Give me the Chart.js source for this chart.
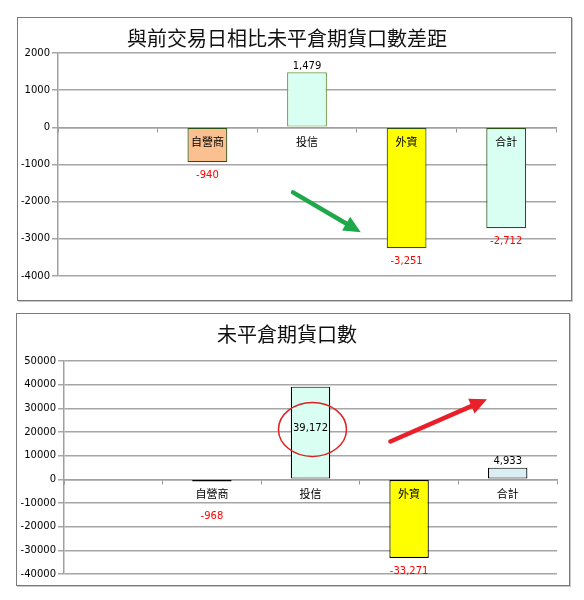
<!DOCTYPE html>
<html>
<head>
<meta charset="utf-8">
<script src="https://cdn.jsdelivr.net/npm/chart.js@4.4.1/dist/chart.umd.min.js"></script>
<style>
  html, body { margin: 0; padding: 0; background: #fff; }
  body { width: 584px; height: 600px; position: relative; overflow: hidden; }
  .box { position: absolute; box-sizing: border-box; border: 1px solid #7a7a7a; box-shadow: 1px 1px 0 #c8c8c8; background: #fff; }
  .box canvas { position: absolute; left: 0; top: 0; }
</style>
</head>
<body>
<div class="box" style="left:17px; top:17px; width:555px; height:284px;">
  <canvas id="diffChart" width="553" height="282"></canvas>
</div>
<div class="box" style="left:16px; top:313px; width:554px; height:273px;">
  <canvas id="oiChart" width="552" height="271"></canvas>
</div>
<script>
// categories (first slot is empty, as in the sheet)
var categories = ['', '自營商', '投信', '外資', '合計'];

// change in open interest vs previous trading day
var diffValues = [null, -940, 1479, -3251, -2712];
var diffTicks = [-4000, -3000, -2000, -1000, 0, 1000, 2000];

// open interest of futures contracts
var oiValues = [null, -968, 39172, -33271, 4933];
var oiTicks = [-40000, -30000, -20000, -10000, 0, 10000, 20000, 30000, 40000, 50000];

var diffColors = ['#ffffff', '#fac090', '#d9fff2', '#ffff00', '#d9fff2'];
var diffBorders = ['#ffffff', '#2d5016', '#6f9a45', '#2d5016', '#2d5016'];
var oiColors = ['#ffffff', '#fac090', '#d9fff2', '#ffff00', '#daeef3'];
var oiBorders = ['#ffffff', '#000000', '#000000', '#000000', '#000000'];

// where each value label sits
var diffLabelPos = ['', 'end', 'end', 'end', 'end'];
var oiLabelPos = ['', 'end', 'center', 'end', 'end'];

function fmt(v) {
	return v.toLocaleString('en-US');
}

var valueLabels = {
	id: 'valueLabels',
	afterDatasetsDraw: function(chart, args, opts) {
		var ctx = chart.ctx;
		var ds = chart.data.datasets[0];
		var meta = chart.getDatasetMeta(0);
		ctx.save();
		ctx.font = '10px "DejaVu Sans"';
		ctx.textAlign = 'center';
		meta.data.forEach(function(bar, i) {
			var v = ds.data[i];
			if (v === null) return;
			var pos = opts.pos[i];
			ctx.fillStyle = v < 0 ? '#ff0000' : '#000000';
			if (pos === 'center') {
				ctx.textBaseline = 'middle';
				ctx.fillText(fmt(v), bar.x, (bar.y + bar.base) / 2 - 4);
			} else if (v >= 0) {
				ctx.textBaseline = 'bottom';
				ctx.fillText(fmt(v), bar.x, bar.y - 1);
			} else {
				ctx.textBaseline = 'middle';
				var y = Math.max(bar.y + 13, bar.base + 36);
				ctx.fillText(fmt(v), bar.x, y);
			}
		});
		ctx.restore();
	}
};

// hand-drawn marks on the sheet: arrows and the circle, given in data units
var marks = {
	id: 'marks',
	afterDraw: function(chart, args, opts) {
		var ctx = chart.ctx;
		var xs = chart.scales.x, ys = chart.scales.y;
		ctx.save();
		(opts.arrows || []).forEach(function(a) {
			var x1 = xs.getPixelForValue(a.from[0]), y1 = ys.getPixelForValue(a.from[1]);
			var x2 = xs.getPixelForValue(a.to[0]), y2 = ys.getPixelForValue(a.to[1]);
			var ang = Math.atan2(y2 - y1, x2 - x1);
			var hl = 17, hw = 8;
			var bx = x2 - hl * Math.cos(ang), by = y2 - hl * Math.sin(ang);
			ctx.strokeStyle = a.color;
			ctx.fillStyle = a.color;
			ctx.lineWidth = 4.5;
			ctx.lineCap = 'round';
			ctx.beginPath();
			ctx.moveTo(x1, y1);
			ctx.lineTo(bx, by);
			ctx.stroke();
			ctx.beginPath();
			ctx.moveTo(x2, y2);
			ctx.lineTo(bx + hw * Math.sin(ang), by - hw * Math.cos(ang));
			ctx.lineTo(bx - hw * Math.sin(ang), by + hw * Math.cos(ang));
			ctx.closePath();
			ctx.fill();
		});
		(opts.rings || []).forEach(function(r) {
			var cx = xs.getPixelForValue(r.at[0]), cy = ys.getPixelForValue(r.at[1]);
			ctx.strokeStyle = r.color;
			ctx.lineWidth = 1.5;
			ctx.beginPath();
			ctx.ellipse(cx, cy, r.rx, r.ry, 0, 0, Math.PI * 2);
			ctx.stroke();
		});
		ctx.restore();
	}
};

function makeChart(id, values, ticks, colors, borders, title, titlePad, axisWidth, pad, labelPos, marksOpts) {
	var ctx = document.getElementById(id).getContext('2d');
	return new Chart(ctx, {
		type: 'bar',
		data: {
			labels: categories,
			datasets: [{
				data: values,
				backgroundColor: colors,
				borderColor: borders,
				borderWidth: 1.2,
				borderSkipped: false,
				categoryPercentage: 1.0,
				barPercentage: 0.4
			}]
		},
		options: {
			responsive: false,
			animation: false,
			layout: { padding: pad },
			plugins: {
				legend: { display: false },
				tooltip: { enabled: false },
				title: {
					display: true,
					text: title,
					color: '#111111',
					font: { family: '"Noto Sans CJK TC"', size: 20, weight: 'normal', lineHeight: 1.2 },
					padding: titlePad
				},
				valueLabels: { pos: labelPos },
				marks: marksOpts
			},
			scales: {
				x: {
					position: { y: 0 },
					grid: { drawOnChartArea: false, drawTicks: true, tickLength: 4, color: '#999999', offset: true },
					border: { color: '#a0a0a0', width: 1.5 },
					ticks: { z: 1, padding: 4, color: '#000000', font: { family: '"Noto Sans CJK TC"', size: 11 } }
				},
				y: {
					min: ticks[0],
					max: ticks[ticks.length - 1],
					afterBuildTicks: function(scale) {
						scale.ticks = ticks.map(function(v) { return { value: v }; });
					},
					afterFit: function(scale) { scale.width = axisWidth; },
					grid: { color: '#a6a6a6', lineWidth: 1.5, tickLength: 6 },
					border: { color: '#a0a0a0', width: 1.5 },
					ticks: {
						padding: 2,
						color: '#000000',
						font: { family: '"DejaVu Sans"', size: 10 },
						callback: function(v) { return String(v); }
					}
				}
			}
		},
		plugins: [valueLabels, marks]
	});
}

makeChart('diffChart', diffValues, diffTicks, diffColors, diffBorders,
	'與前交易日相比未平倉期貨口數差距', { top: 8, bottom: 3 }, 40,
	{ left: 0, right: 15, top: 0, bottom: 24 }, diffLabelPos,
	{ arrows: [{ from: [1.86, -1750], to: [2.54, -2820], color: '#1fa84a' }] });

makeChart('oiChart', oiValues, oiTicks, oiColors, oiBorders,
	'未平倉期貨口數', { top: 8, bottom: 15 }, 47,
	{ left: 0, right: 12, top: 0, bottom: 11 }, oiLabelPos,
	{ arrows: [{ from: [2.81, 16000], to: [3.79, 33800], color: '#e8202a' }],
	  rings: [{ at: [2.02, 21100], rx: 34, ry: 27, color: '#e02020' }] });
</script>
</body>
</html>
